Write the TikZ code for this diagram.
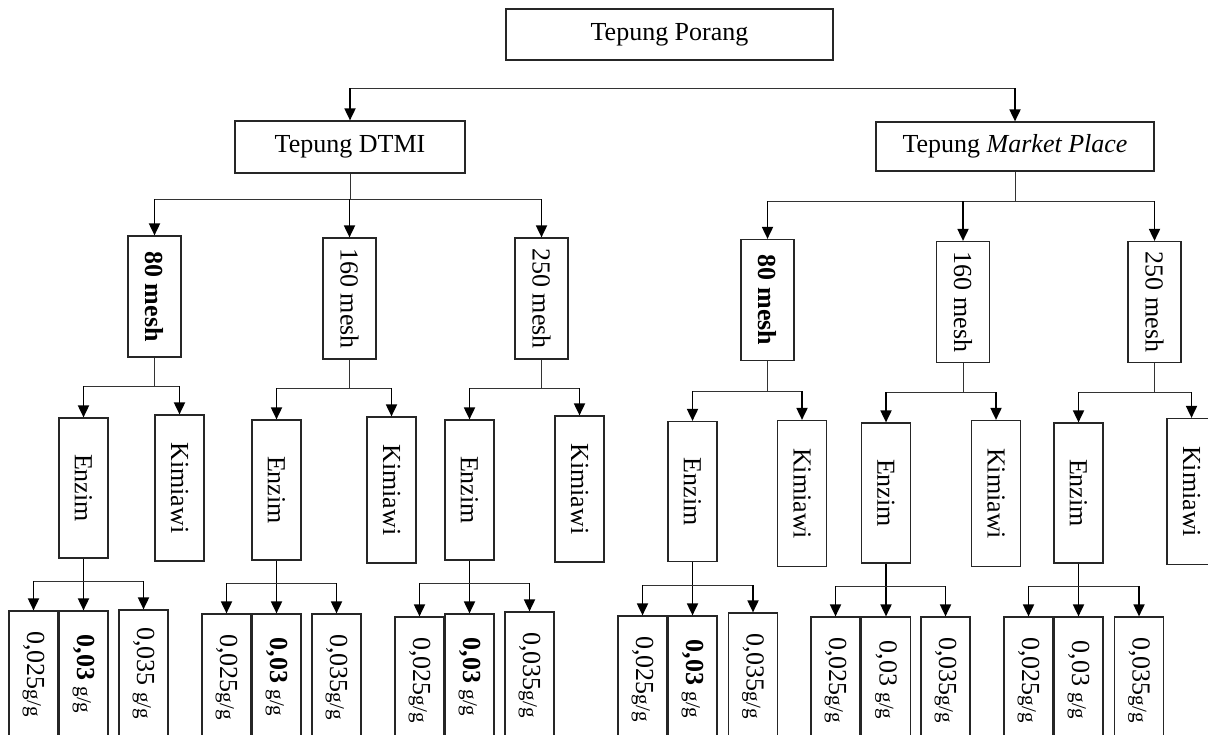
\documentclass[tikz,border=0pt]{standalone}
\usepackage{graphicx}
\usepackage{fontspec}
\setmainfont{Liberation Serif}
\usepackage{tikz}
\usetikzlibrary{arrows.meta,positioning}

\newcommand{\vlabel}[1]{\rotatebox{-90}{#1}}
\newcommand{\perg}{{\fontsize{10.5}{11}\selectfont g/g}}

\begin{document}
\begin{tikzpicture}[x=0.5pt,y=-0.5pt,font=\fontsize{13}{15}\selectfont,
  box/.style={draw=black!85,line width=0.6pt,inner sep=0pt,align=center},
  meshbox/.style={box,minimum width=26.5pt,minimum height=60.5pt},
  enzbox/.style={box,minimum width=24.5pt,minimum height=70pt},
  kimbox/.style={box,minimum width=24.5pt,minimum height=73pt},
  dosebox/.style={box,minimum width=24.5pt,minimum height=63pt},
  arr/.style={-{Triangle[length=6pt,width=5.5pt]},line width=0.9pt},
  link/.style={line width=0.5pt,draw=black!80}]
\useasboundingbox (0,0) rectangle (1208,734);
\clip (0,0) rectangle (1208,734);
% top levels
\node[box,minimum width=163.5pt,minimum height=25.5pt] (porang) at (669.5,34.5) {Tepung Porang};
\node[box,minimum width=115pt,minimum height=26pt] (dtmi) at (350,147) {Tepung DTMI};
\node[box,minimum width=139pt,minimum height=24.5pt] (mp) at (1015,146.5) {Tepung \textit{Market Place}};
% mesh sizes
\node[meshbox] (m1) at (154.5,296.5) {\vlabel{\textbf{80 mesh}}};
\node[meshbox] (m2) at (349.5,298.5) {\vlabel{160 mesh}};
\node[meshbox] (m3) at (541.5,298.5) {\vlabel{250 mesh}};
\node[meshbox] (m4) at (767.5,300) {\vlabel{\textbf{80 mesh}}};
\node[meshbox] (m5) at (963,302) {\vlabel{160 mesh}};
\node[meshbox] (m6) at (1154.5,302) {\vlabel{250 mesh}};
% treatments
\node[enzbox] (e1) at (83.5,488) {\vlabel{Enzim}};
\node[kimbox] (k1) at (179.5,488) {\vlabel{Kimiawi}};
\node[enzbox] (e2) at (276.5,490) {\vlabel{Enzim}};
\node[kimbox] (k2) at (391.5,490) {\vlabel{Kimiawi}};
\node[enzbox] (e3) at (469.5,490) {\vlabel{Enzim}};
\node[kimbox] (k3) at (579.5,489) {\vlabel{Kimiawi}};
\node[enzbox] (e4) at (692.5,491.5) {\vlabel{Enzim}};
\node[kimbox] (k4) at (802,493.5) {\vlabel{Kimiawi}};
\node[enzbox] (e5) at (886,493) {\vlabel{Enzim}};
\node[kimbox] (k5) at (996,493.5) {\vlabel{Kimiawi}};
\node[enzbox] (e6) at (1078.5,493) {\vlabel{Enzim}};
\node[kimbox] (k6) at (1191.5,491.5) {\vlabel{Kimiawi}};
% enzyme doses
\node[dosebox] (d1-a) at (33.5,674) {\vlabel{0,025\perg}};
\node[dosebox] (d1-b) at (83.5,674) {\vlabel{\textbf{0,03} \perg}};
\node[dosebox] (d1-c) at (143.5,673) {\vlabel{0,035 \perg}};
\node[dosebox] (d2-a) at (226.5,677) {\vlabel{0,025\perg}};
\node[dosebox] (d2-b) at (276.5,677) {\vlabel{\textbf{0,03} \perg}};
\node[dosebox] (d2-c) at (336.5,677) {\vlabel{0,035\perg}};
\node[dosebox] (d3-a) at (419.5,680) {\vlabel{0,025\perg}};
\node[dosebox] (d3-b) at (469.5,677) {\vlabel{\textbf{0,03} \perg}};
\node[dosebox] (d3-c) at (529.5,675) {\vlabel{0,035\perg}};
\node[dosebox] (d4-a) at (642.5,679) {\vlabel{0,025\perg}};
\node[dosebox] (d4-b) at (692.5,679) {\vlabel{\textbf{0,03} \perg}};
\node[dosebox] (d4-c) at (753,676) {\vlabel{0,035\perg}};
\node[dosebox] (d5-a) at (835.5,680) {\vlabel{0,025\perg}};
\node[dosebox] (d5-b) at (886,680) {\vlabel{0,03 \perg}};
\node[dosebox] (d5-c) at (945.5,680) {\vlabel{0,035\perg}};
\node[dosebox] (d6-a) at (1028.5,680) {\vlabel{0,025\perg}};
\node[dosebox] (d6-b) at (1078.5,680) {\vlabel{0,03 \perg}};
\node[dosebox] (d6-c) at (1139,680) {\vlabel{0,035\perg}};
% branch heights
\coordinate (topbar) at (0,88);
\coordinate (dbar) at (0,199);
\coordinate (mbar) at (0,201);
\coordinate (b1) at (0,386); \coordinate (b2) at (0,388); \coordinate (b3) at (0,388);
\coordinate (b4) at (0,391); \coordinate (b5) at (0,392); \coordinate (b6) at (0,392);
\coordinate (c1) at (0,581); \coordinate (c2) at (0,583); \coordinate (c3) at (0,583);
\coordinate (c4) at (0,585); \coordinate (c5) at (0,586); \coordinate (c6) at (0,586);
% connectors
\draw[link] (dtmi.north |- topbar) -- (mp.north |- topbar);
\draw[arr] (dtmi.north |- topbar) -- (dtmi.north);
\draw[arr] (mp.north |- topbar) -- (mp.north);
\draw[link] (dtmi.south) -- (dtmi.south |- dbar) (m1.north |- dbar) -- (m3.north |- dbar);
\draw[link] (mp.south) -- (mp.south |- mbar) (m4.north |- mbar) -- (m6.north |- mbar);
\foreach \n in {1,2,3} \draw[arr] (m\n.north |- dbar) -- (m\n.north);
\foreach \n in {4,5,6} \draw[arr] (m\n.north |- mbar) -- (m\n.north);
\foreach \n in {1,...,6} {
  \draw[link] (m\n.south) -- (m\n.south |- b\n) (e\n.north |- b\n) -- (k\n.north |- b\n);
  \draw[arr] (e\n.north |- b\n) -- (e\n.north);
  \draw[arr] (k\n.north |- b\n) -- (k\n.north);
  \draw[arr] (e\n.south) -- (d\n-b.north);
  \draw[link] (d\n-a.north |- c\n) -- (d\n-c.north |- c\n);
  \draw[arr] (d\n-a.north |- c\n) -- (d\n-a.north);
  \draw[arr] (d\n-c.north |- c\n) -- (d\n-c.north);
}
\end{tikzpicture}
\end{document}
